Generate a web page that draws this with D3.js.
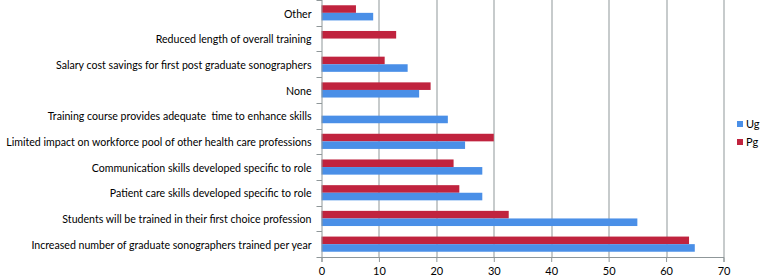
<!DOCTYPE html>
<html>
<head>
<meta charset="utf-8">
<script src="https://cdn.jsdelivr.net/npm/d3@7"></script>
<style>
  body { margin: 0; background: #fff; }
  svg text { font-family: Lato, "Open Sans", sans-serif; fill: #000; }
</style>
</head>
<body>
<div id="chart"></div>
<script>
// categories, top to bottom as shown
var categories = [
  "Other",
  "Reduced length of overall training",
  "Salary cost savings for first post graduate sonographers",
  "None",
  "Training course provides adequate  time to enhance skills",
  "Limited impact on workforce pool of other health care professions",
  "Communication skills developed specific to role",
  "Patient care skills developed specific to role",
  "Students will be trained in their first choice profession",
  "Increased number of graduate sonographers trained per year"
];
var pgValues = [6, 13, 11, 19, 0, 30, 23, 24, 32.6, 64];
var ugValues = [9, 0, 15, 17, 22, 25, 28, 28, 55, 65];
var seriesNames = ["Pg", "Ug"];
var legendNames = ["Ug", "Pg"];
var xTicks = [0, 10, 20, 30, 40, 50, 60, 70];

var colors = { Ug: "#4a8fe7", Pg: "#c0233e" };

// set the dimensions and margins of the graph
var margin = {top: 0, right: 36.5, bottom: 21, left: 321.5},
    width = 760 - margin.left - margin.right,
    height = 278 - margin.top - margin.bottom;

var svg = d3.select("#chart")
  .append("svg")
    .attr("width", 760)
    .attr("height", 278)
  .append("g")
    .attr("transform", "translate(" + margin.left + "," + margin.top + ")");

var x = d3.scaleLinear().domain([0, 70]).range([0, width]);
var y = d3.scaleBand().domain(categories).range([0, height]);
var ySub = d3.scaleBand().domain(seriesNames)
  .range([y.bandwidth() * 0.205, y.bandwidth() * 0.795]);

var gridColor = "#8f9799";

// vertical gridlines
svg.append("g")
  .selectAll("line")
  .data(xTicks.slice(1))
  .enter()
  .append("line")
    .attr("x1", function(d) { return Math.round(x(d)) + 0.5; })
    .attr("x2", function(d) { return Math.round(x(d)) + 0.5; })
    .attr("y1", 0)
    .attr("y2", height)
    .attr("stroke", gridColor)
    .attr("stroke-width", 1);

// bars
var rows = categories.map(function(c, i) {
  return {cat: c, values: [{s: "Pg", v: pgValues[i]}, {s: "Ug", v: ugValues[i]}]};
});

svg.append("g")
  .selectAll("g")
  .data(rows)
  .enter()
  .append("g")
    .attr("transform", function(d) { return "translate(0," + y(d.cat) + ")"; })
  .selectAll("rect")
  .data(function(d) { return d.values.filter(function(e) { return e.v > 0; }); })
  .enter()
  .append("rect")
    .attr("x", x(0))
    .attr("y", function(d) { return ySub(d.s); })
    .attr("width", function(d) { return x(d.v) - x(0); })
    .attr("height", ySub.bandwidth())
    .attr("fill", function(d) { return colors[d.s]; });

// X axis
var xAxis = svg.append("g")
  .attr("transform", "translate(0," + height + ")")
  .call(d3.axisBottom(x).tickValues(xTicks).tickSize(5).tickPadding(5));
xAxis.selectAll("line").attr("stroke", gridColor);
xAxis.select(".domain").attr("stroke", gridColor);
xAxis.selectAll("text")
  .style("font-size", "11px")
  .style("font-family", "Lato, sans-serif");

// Y axis, ticks at band boundaries
var yAxisG = svg.append("g");
yAxisG.append("line")
  .attr("x1", 0.5).attr("x2", 0.5)
  .attr("y1", 0).attr("y2", height)
  .attr("stroke", gridColor);
yAxisG.selectAll(".bt")
  .data(d3.range(categories.length + 1))
  .enter()
  .append("line")
    .attr("class", "bt")
    .attr("x1", -5).attr("x2", 0.5)
    .attr("y1", function(i) { return Math.round(i * y.step()) + 0.5; })
    .attr("y2", function(i) { return Math.round(i * y.step()) + 0.5; })
    .attr("stroke", gridColor);
yAxisG.selectAll("text")
  .data(categories)
  .enter()
  .append("text")
    .attr("x", -10)
    .attr("y", function(d) { return y(d) + y.bandwidth() / 2 + 1; })
    .attr("dy", "0.35em")
    .attr("text-anchor", "end")
    .style("white-space", "pre")
    .style("font-size", "10.6px")
    .text(function(d) { return d; });

// legend
var legend = d3.select("svg").append("g")
  .attr("transform", "translate(737,118)");
var li = legend.selectAll("g")
  .data(legendNames)
  .enter()
  .append("g")
    .attr("transform", function(d, i) { return "translate(0," + (i * 18) + ")"; });
li.append("rect")
  .attr("width", 6).attr("height", 6)
  .attr("y", 3)
  .attr("fill", function(d) { return colors[d]; });
li.append("text")
  .attr("x", 9)
  .attr("y", 6)
  .attr("dy", "0.35em")
  .style("font-size", "11px")
  .text(function(d) { return d; });
</script>
</body>
</html>
